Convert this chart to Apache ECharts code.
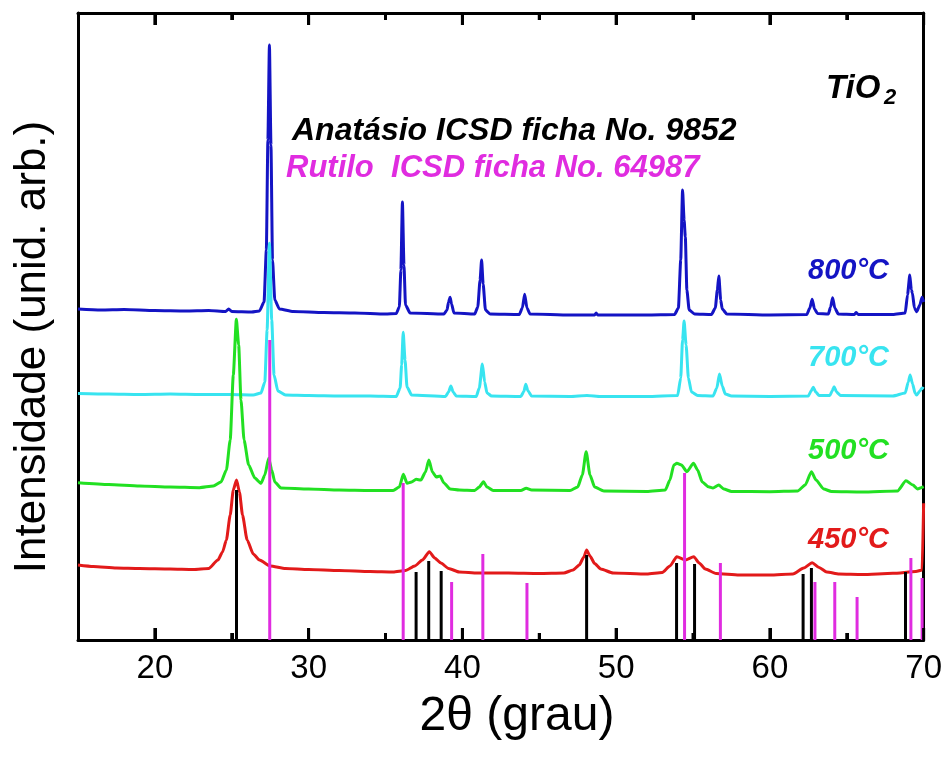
<!DOCTYPE html>
<html>
<head>
<meta charset="utf-8">
<script src="https://cdn.jsdelivr.net/npm/echarts@6/dist/echarts.min.js"></script>
<style>
  html, body { margin: 0; padding: 0; background: #fff; }
  #chart { width: 945px; height: 758px; }
</style>
</head>
<body>
<div id="chart"></div>
<script>
// XRD patterns of TiO2 calcined at different temperatures (2θ in degrees, arbitrary intensity)
const xTickLabels = [20, 30, 40, 50, 60, 70];
const xMinorTicks = [25, 35, 45, 55, 65];
const X_MIN = 15, X_MAX = 70, Y_MAX = 627;

const pattern800 = [
  [15, 331], [16.5, 330], [18, 330.5], [20, 329.5], [22, 329], [23.5, 329.5], [24.6, 328.5], [24.8, 331], [25.0, 328.5],
  [26.3, 328], [26.8, 329], [27.1, 338], [27.25, 390], [27.35, 500], [27.45, 595], [27.55, 495], [27.65, 380], [27.8, 340],
  [28.1, 331], [29, 328.5], [31, 327.5], [33, 327], [35, 326], [35.7, 326.5], [35.9, 333], [36.0, 370], [36.1, 438],
  [36.2, 375], [36.3, 335], [36.6, 327], [38.8, 326], [39.0, 330], [39.1, 338], [39.2, 342.7], [39.3, 336], [39.45, 327],
  [40.8, 326], [41.0, 333], [41.15, 360], [41.25, 380], [41.35, 356], [41.5, 330], [41.8, 326], [43.7, 325.5], [43.9, 332],
  [44.05, 345.7], [44.2, 332], [44.4, 326], [47, 325], [48.6, 325], [48.7, 327], [48.8, 325], [50, 325], [52, 325],
  [53.8, 325.5], [54.05, 332], [54.2, 380], [54.32, 450], [54.42, 420], [54.5, 403], [54.6, 350], [54.75, 330], [55.1, 326],
  [56.2, 325.5], [56.45, 332], [56.58, 350], [56.68, 364], [56.8, 340], [56.9, 331], [57.2, 326], [60, 325], [62.4, 325.5],
  [62.6, 332], [62.75, 340.7], [62.9, 331], [63.1, 326.5], [63.8, 326], [63.95, 333], [64.08, 342.3], [64.22, 332],
  [64.45, 326], [65.5, 325.5], [65.6, 327.5], [65.75, 325.5], [68, 325.5], [68.8, 327], [68.95, 345], [69.1, 365],
  [69.2, 350], [69.27, 347], [69.4, 332], [69.55, 328.3], [69.75, 335], [69.9, 342.7], [70, 338]
];

const pattern700 = [
  [15, 246.5], [17, 246], [19, 245.5], [21, 246], [23, 245.5], [25, 245.5], [26.4, 245], [26.9, 247], [27.15, 258],
  [27.3, 310], [27.45, 396.7], [27.6, 320], [27.75, 265], [28.0, 249], [28.5, 245], [30, 244.5], [32, 244], [34, 244],
  [35.7, 243.5], [35.95, 252], [36.05, 275], [36.15, 307.7], [36.27, 280], [36.4, 253], [36.7, 245], [38.9, 243.5],
  [39.1, 248], [39.25, 254], [39.4, 248], [39.6, 244], [40.9, 243.5], [41.1, 252], [41.3, 276], [41.45, 258], [41.6, 247],
  [41.9, 244], [43.8, 243.5], [44.0, 248.5], [44.12, 255.7], [44.27, 249], [44.5, 244], [47, 243.5], [48.1, 244.5],
  [49, 243.5], [52, 243.5], [54.0, 244.5], [54.2, 262], [54.32, 300], [54.42, 319], [54.55, 295], [54.7, 262], [54.9, 248],
  [55.3, 244.5], [56.3, 244], [56.55, 252], [56.72, 266], [56.9, 254], [57.1, 246], [57.5, 244], [60, 243.5], [62.5, 244],
  [62.68, 249], [62.82, 252.7], [62.98, 248], [63.2, 244.5], [63.9, 244.5], [64.05, 249], [64.18, 253.3], [64.33, 248],
  [64.6, 244.5], [68, 244], [68.8, 247], [69.0, 258], [69.12, 265], [69.28, 256], [69.45, 246.5], [69.55, 245],
  [69.75, 249], [69.9, 252], [70, 251]
];

const pattern500 = [
  [15, 157.3], [17, 155.5], [19, 154], [21, 153], [22.9, 152.3], [23.8, 154], [24.3, 158], [24.65, 170], [24.9, 200],
  [25.1, 265], [25.3, 320.7], [25.45, 295], [25.6, 240], [25.8, 200], [26.1, 175], [26.5, 162], [26.9, 156.7],
  [27.15, 165], [27.4, 181.7], [27.6, 170], [27.8, 158], [28.2, 152], [30, 151], [32, 150], [34, 149.5], [35.5, 149.5],
  [35.9, 153], [36.16, 165.7], [36.4, 156.7], [36.7, 158], [36.99, 160.7], [37.3, 160], [37.6, 168], [37.82, 180],
  [38.05, 168], [38.3, 163], [38.55, 164], [38.8, 157], [39.2, 151], [39.8, 150], [40.8, 149.5], [41.1, 153],
  [41.37, 158.3], [41.6, 153], [42, 149.5], [43.8, 149.5], [44.15, 151.7], [44.5, 150], [47, 149.5], [47.5, 153],
  [47.8, 165], [48.05, 188.3], [48.3, 165], [48.6, 153], [49.2, 149], [52, 148.5], [53.2, 150], [53.5, 160],
  [53.75, 175], [53.95, 176.7], [54.25, 175], [54.6, 168.3], [55.03, 176.7], [55.3, 170], [55.6, 158], [56.0, 153.3],
  [56.3, 152], [56.67, 155], [57.0, 151], [57.5, 148.5], [60, 148.3], [61.8, 149], [62.3, 155], [62.7, 168.3],
  [63.0, 160], [63.5, 151], [64, 148.5], [66, 148], [68.3, 149], [68.85, 159.3], [69.3, 155], [69.6, 151], [70, 153.3]
];

const pattern450 = [
  [15, 75], [16, 73.5], [17.5, 72], [19, 71.5], [21, 71], [22.5, 70.5], [23.5, 71.5], [24.1, 80], [24.4, 88], [24.65, 100],
  [24.9, 125], [25.1, 150], [25.31, 160], [25.5, 148], [25.7, 125], [26.0, 100], [26.4, 86], [26.8, 80], [27.5, 74],
  [28.5, 71.5], [30, 70.5], [32, 69.5], [34, 68.5], [35.5, 68], [36.3, 69.5], [36.9, 74], [37.4, 80], [37.85, 88.3],
  [38.2, 82], [38.6, 77], [39.1, 71.5], [39.8, 68], [41, 67], [43, 67], [45, 66.5], [46.6, 67], [47.2, 70], [47.6, 75],
  [47.9, 83], [48.08, 90], [48.3, 84], [48.6, 76.5], [49.0, 71], [49.8, 67], [52, 66], [53.0, 67.5], [53.5, 74],
  [53.95, 83.3], [54.5, 80], [55.05, 83.3], [55.4, 77], [55.8, 71], [56.5, 66.5], [58, 65], [60, 65], [61.5, 66],
  [62.2, 72], [62.75, 77.3], [63.2, 72.5], [63.7, 68], [64.5, 66], [66, 65.5], [68, 66.7], [69.5, 68.5], [69.9, 70],
  [70, 136.7]
];

// reference line patterns: [2θ, relative height]
const anataseRef = [
  [25.31, 150], [36.99, 68], [37.81, 79], [38.62, 69], [48.08, 85], [53.93, 77], [55.1, 76],
  [62.16, 66], [62.7, 72], [68.82, 68]
];
const rutileRef = [
  [27.47, 300], [36.15, 157], [39.3, 58], [41.33, 86], [44.2, 57], [54.45, 167], [56.78, 77],
  [62.93, 58], [64.22, 58], [65.67, 43], [69.17, 82], [69.9, 62]
];

const FONT = '"Liberation Sans", Arial, sans-serif';
const C800 = '#1414c4', C700 = '#38e4f0', C500 = '#22e022', C450 = '#e21a1a', CRUT = '#e02ce0';
const MAJOR_TICK = 12, MINOR_TICK = 7; // tick lengths in y units

// vertical segment starting at y = from and running to y = value
function segmentRenderer(color, from) {
  return function (params, api) {
    const x = api.value(0);
    const a = api.coord([x, from]);
    const b = api.coord([x, api.value(1)]);
    return {
      type: 'line',
      shape: { x1: a[0], y1: a[1], x2: b[0], y2: b[1] },
      style: { stroke: color, lineWidth: 3 }
    };
  };
}

function trace(name, data, color) {
  return {
    name, type: 'line', data, xAxisIndex: 0, yAxisIndex: 0,
    showSymbol: false, smooth: 0.2, smoothMonotone: 'x',
    lineStyle: { color, width: 3 }, z: 2
  };
}

function segments(name, data, color, from) {
  return {
    name, type: 'custom', data, encode: { x: 0, y: 1 },
    xAxisIndex: 0, yAxisIndex: 0, renderItem: segmentRenderer(color, from), z: 3
  };
}

function label(text, x, y, size, color) {
  return {
    type: 'text', x, y,
    style: {
      text, fill: color, font: `italic bold ${size}px ${FONT}`,
      align: 'left', textAlign: 'left', verticalAlign: 'middle', textVerticalAlign: 'middle'
    }
  };
}

const axisColor = '#000';
const baseX = { type: 'value', min: X_MIN, max: X_MAX, gridIndex: 0, splitLine: { show: false } };

const option = {
  animation: false,
  backgroundColor: '#fff',
  grid: { left: 78, right: 20, top: 13, bottom: 118, show: false },
  xAxis: [
    Object.assign({}, baseX, {
      position: 'bottom',
      axisLine: { show: true, lineStyle: { color: axisColor, width: 3 } },
      axisTick: { show: true, inside: true, length: 12, lineStyle: { color: axisColor, width: 3 }, customValues: xTickLabels },
      axisLabel: { show: true, customValues: xTickLabels, color: '#000', fontSize: 33, fontFamily: FONT, margin: 12 }
    }),
    Object.assign({}, baseX, {
      position: 'bottom',
      axisLine: { show: false },
      axisTick: { show: true, inside: true, length: 7, lineStyle: { color: axisColor, width: 3 }, customValues: xMinorTicks },
      axisLabel: { show: false }
    }),
    Object.assign({}, baseX, {
      position: 'top',
      axisLine: { show: true, lineStyle: { color: axisColor, width: 3 } },
      axisTick: { show: true, inside: true, length: 12, lineStyle: { color: axisColor, width: 3 }, customValues: xTickLabels },
      axisLabel: { show: false }
    }),
    Object.assign({}, baseX, {
      position: 'top',
      axisLine: { show: false },
      axisTick: { show: true, inside: true, length: 7, lineStyle: { color: axisColor, width: 3 }, customValues: xMinorTicks },
      axisLabel: { show: false }
    })
  ],
  yAxis: [
    {
      type: 'value', min: 0, max: Y_MAX, position: 'left',
      axisLine: { show: true, lineStyle: { color: axisColor, width: 3 } },
      axisTick: { show: false }, axisLabel: { show: false }, splitLine: { show: false }
    },
    {
      type: 'value', min: 0, max: Y_MAX, position: 'right',
      axisLine: { show: true, lineStyle: { color: axisColor, width: 3 } },
      axisTick: { show: false }, axisLabel: { show: false }, splitLine: { show: false }
    }
  ],
  series: [
    trace('800°C', pattern800, C800),
    trace('700°C', pattern700, C700),
    trace('500°C', pattern500, C500),
    trace('450°C', pattern450, C450),
    segments('Anatásio', anataseRef, '#000', 0),
    segments('Rutilo', rutileRef, CRUT, 0),
    segments('ticks bottom', xTickLabels.map(v => [v, MAJOR_TICK]), '#000', 0),
    segments('minor ticks bottom', xMinorTicks.map(v => [v, MINOR_TICK]), '#000', 0),
    segments('ticks top', xTickLabels.map(v => [v, Y_MAX - MAJOR_TICK]), '#000', Y_MAX),
    segments('minor ticks top', xMinorTicks.map(v => [v, Y_MAX - MINOR_TICK]), '#000', Y_MAX)
  ],
  graphic: [
    label('TiO', 826, 89, 33, '#000'),
    label('2', 884, 98, 22, '#000'),
    label('Anatásio ICSD ficha No. 9852', 292, 131, 32, '#000'),
    label('Rutilo  ICSD ficha No. 64987', 286, 168, 31, CRUT),
    label('800°C', 808, 271, 29, C800),
    label('700°C', 808, 358, 29, C700),
    label('500°C', 808, 451, 29, C500),
    label('450°C', 808, 540, 29, C450),
    {
      type: 'text', x: 33, y: 347, rotation: Math.PI / 2,
      style: {
        text: 'Intensidade (unid. arb.)', fill: '#000', font: `44px ${FONT}`,
        align: 'center', textAlign: 'center', verticalAlign: 'middle', textVerticalAlign: 'middle'
      }
    },
    {
      type: 'text', x: 517, y: 717,
      style: {
        text: '2θ (grau)', fill: '#000', font: `48px ${FONT}`,
        align: 'center', textAlign: 'center', verticalAlign: 'middle', textVerticalAlign: 'middle'
      }
    }
  ]
};

const chart = echarts.init(document.getElementById('chart'), null, { renderer: 'canvas' });
chart.setOption(option);
</script>
</body>
</html>
